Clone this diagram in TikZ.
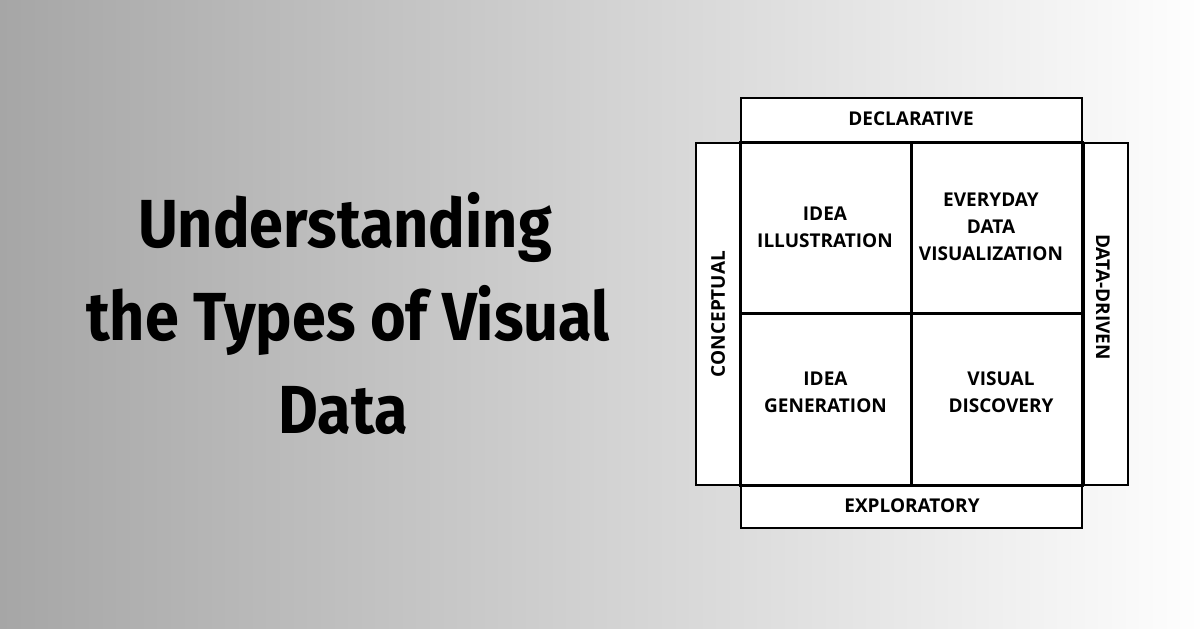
\documentclass[tikz,border=0pt]{standalone}
\usepackage{fontspec}
\setmainfont{Open Sans}
\newfontfamily\titlefont[FakeStretch=0.9]{Fira Sans}
\definecolor{bgleft}{RGB}{166,166,166}
\definecolor{bgright}{RGB}{254,254,254}
\tikzset{
  sidebox/.style={draw=black, fill=white, line width=1pt, inner sep=0pt, outer sep=0pt},
  cell/.style={draw=black, fill=white, line width=1.5pt, inner sep=0pt, outer sep=0pt,
    minimum width=85.5pt, minimum height=86pt},
  lbl/.style={font=\bfseries\fontsize{9.5}{13.5}\selectfont, align=center, inner sep=0pt},
  titleline/.style={font=\titlefont\bfseries\fontsize{34}{46}\selectfont, anchor=base, inner sep=0pt}
}
\begin{document}
\begin{tikzpicture}[x=0.5pt,y=-0.5pt]
\useasboundingbox (0,0) rectangle (1200,628);
\shade[left color=bgleft, right color=bgright] (0,0) rectangle (1200,628);

% title
\node[titleline] (tl1) at (345,247) {Understanding};
\node[titleline] (tl2) at (348,340) {the Types of Visual};
\node[titleline] (tl3) at (343,433) {Data};

% outer boxes
\node[sidebox, minimum width=170.5pt, minimum height=22pt] (decl) at (911.5,120) {};
\node[sidebox, minimum width=170.5pt, minimum height=21.5pt] (expl) at (911.5,506.5) {};
\node[sidebox, minimum width=22pt, minimum height=171pt] (conc) at (718,314) {};
\node[sidebox, minimum width=22pt, minimum height=171pt] (ddrv) at (1106,314) {};

% the four quadrants
\node[cell] (ill) at (825.5,228) {};
\node[cell] (evd) at (996.5,228) {};
\node[cell] (gen) at (825.5,399.5) {};
\node[cell] (dis) at (996.5,399.5) {};

% texts
\node[lbl] (decltxt) at (911,119) {DECLARATIVE};
\node[lbl] (expltxt) at (912,506) {EXPLORATORY};
\node[lbl, rotate=90] (conctxt) at (718,314) {CONCEPTUAL};
\node[lbl, rotate=-90] (ddrvtxt) at (1103,297) {DATA-DRIVEN};
\node[lbl] (illtxt) at (825,227) {IDEA\\ILLUSTRATION};
\node[lbl] (evdtxt) at (991,227) {EVERYDAY\\DATA\\VISUALIZATION};
\node[lbl] (gentxt) at (825.5,392) {IDEA\\GENERATION};
\node[lbl] (distxt) at (1001,392) {VISUAL\\DISCOVERY};
\end{tikzpicture}
\end{document}
